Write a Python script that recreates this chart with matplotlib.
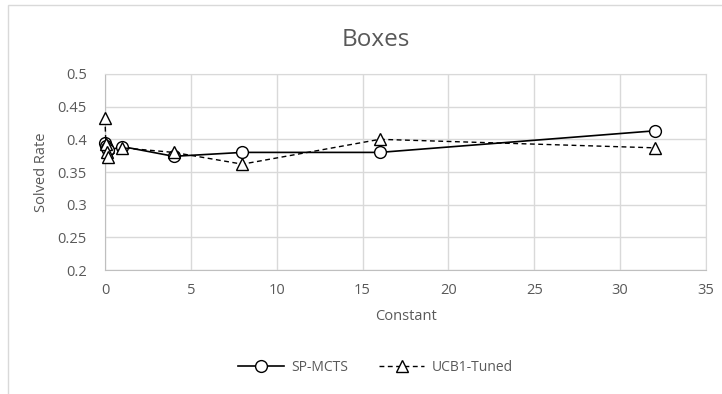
import matplotlib.pyplot as plt
import matplotlib.patches as patches

# exploration constant vs solved rate, Boxes domain
constants = [0, 0.05, 0.1, 0.2, 1, 4, 8, 16, 32]
sp_mcts = [0.394, 0.390, 0.386, 0.383, 0.389, 0.374, 0.380, 0.380, 0.413]
ucb1_tuned = [0.432, 0.393, 0.380, 0.373, 0.387, 0.380, 0.362, 0.400, 0.387]

xticks = [0, 5, 10, 15, 20, 25, 30, 35]
yticks = [0.2, 0.25, 0.3, 0.35, 0.4, 0.45, 0.5]

grey = '#595959'
grid = '#d9d9d9'
plt.rcParams['font.family'] = ['Open Sans', 'DejaVu Sans']

fig = plt.figure(figsize=(7.22, 3.94), dpi=100)
ax = fig.add_axes([0.1454, 0.3147, 0.8325, 0.4975])

# outer chart border
fig.patches.append(patches.Rectangle((8 / 722, -0.01), 1.0, 1 - 5 / 394 + 0.01,
                                     transform=fig.transFigure, fill=False,
                                     edgecolor=grid, lw=1))

ax.plot(constants, sp_mcts, color='black', lw=1.2, marker='o', ms=8.5,
        mfc='white', mec='black', mew=1.0, label='SP-MCTS', zorder=3,
        clip_on=False)
ax.plot(constants, ucb1_tuned, color='black', lw=1.0, ls=(0, (3.5, 2.5)),
        marker='^', ms=8.5, mfc='white', mec='black', mew=1.0,
        label='UCB1-Tuned', zorder=4, clip_on=False)

ax.set_xlim(0, 35)
ax.set_ylim(0.2, 0.5)
ax.set_xticks(xticks)
ax.set_yticks(yticks)
ax.set_xticklabels([str(t) for t in xticks])
ax.set_yticklabels([f'{t:g}' for t in yticks])
ax.grid(True, color=grid, lw=1)
ax.set_axisbelow(True)
for s in ax.spines.values():
    s.set_color(grid)
ax.spines['left'].set_color('#bfbfbf')
ax.spines['bottom'].set_color('#bfbfbf')
ax.tick_params(length=0, labelsize=10.5, colors=grey)
ax.tick_params(axis='y', pad=13)
ax.tick_params(axis='x', pad=9)

fig.text(376 / 722, 1 - 40 / 394, 'Boxes', fontsize=17.5, color=grey,
         ha='center', va='center')
ax.set_xlabel('Constant', fontsize=10.5, color=grey, labelpad=8)
ax.set_ylabel('Solved Rate', fontsize=10.5, color=grey, labelpad=6)

fig.legend(loc='center', bbox_to_anchor=(0.52, 0.068), ncol=2, frameon=False,
           fontsize=10, handlelength=3.3, columnspacing=2.2, handletextpad=0.5,
           labelcolor=grey)

fig.savefig('out.png', dpi=100)
